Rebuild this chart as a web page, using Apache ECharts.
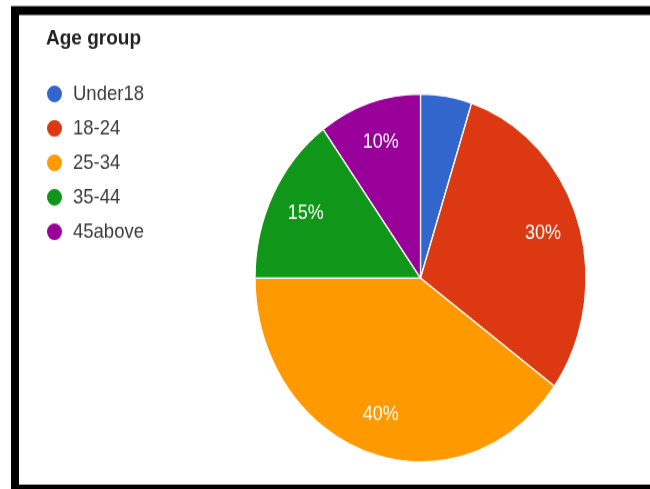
<!DOCTYPE html>
<html>
<head>
<meta charset="utf-8">
<title>Age group</title>
<script src="https://cdn.jsdelivr.net/npm/echarts@6/dist/echarts.min.js"></script>
<style>
  html, body { margin: 0; padding: 0; background: #ffffff; }
  #frame { width: 650px; height: 489px; position: relative; }
  /* the chart is drawn on a 650x440 surface and stretched to fill 489px tall */
  #chart {
    position: absolute;
    left: 0;
    top: 0;
    width: 650px;
    height: 440px;
    transform: scaleY(1.1114);
    transform-origin: 0 0;
  }
</style>
</head>
<body>
<div id="frame"><div id="chart"></div></div>
<script>
// Age group shares (percent of respondents)
const categories = ['Under18', '18-24', '25-34', '35-44', '45above'];
const shares = [5, 30, 40, 15, 10];
const sliceColors = ['#3366cc', '#dc3912', '#ff9900', '#109618', '#990099'];
const chartTitle = 'Age group';

// slices narrower than this get no text inside them
const labelThreshold = 6;

const FONT = '"Liberation Sans", Arial, sans-serif';
const center = [420.5, 250.2];
const radius = 165.5;
const labelRing = 0.76; // label distance as a fraction of the radius

const chart = echarts.init(document.getElementById('chart'), null, { renderer: 'canvas' });

const sliceData = categories.map((name, i) => ({
  name,
  value: shares[i],
  itemStyle: { color: sliceColors[i] }
}));

chart.setOption({
  animation: false,
  backgroundColor: '#ffffff',
  title: {
    text: chartTitle,
    left: 41,
    top: 20,
    textStyle: { fontFamily: FONT, fontSize: 19, fontWeight: 'bold', color: '#222222' }
  },
  legend: {
    data: categories,
    orient: 'vertical',
    left: 40,
    top: 70,
    icon: 'circle',
    itemWidth: 17,
    itemHeight: 17,
    itemGap: 12,
    textStyle: { fontFamily: FONT, fontSize: 18.5, color: '#3c3c3c', padding: [0, 0, 0, 5] }
  },
  graphic: [{
    type: 'rect',
    silent: true,
    z: 100,
    shape: { x: 15, y: 9.5, width: 700, height: 430.5 },
    style: { fill: 'none', stroke: '#000000', lineWidth: 8 }
  }],
  series: [
    {
      name: chartTitle,
      type: 'pie',
      center,
      radius,
      startAngle: 90,
      clockwise: true,
      label: { show: false },
      labelLine: { show: false },
      itemStyle: { borderColor: '#ffffff', borderWidth: 1.3 },
      emphasis: { disabled: true },
      data: sliceData
    },
    {
      // transparent ring used only to place the percentage texts
      name: 'labels',
      type: 'pie',
      center,
      radius: radius * labelRing * 2,
      startAngle: 90,
      clockwise: true,
      silent: true,
      z: 3,
      itemStyle: { color: 'rgba(0,0,0,0)', borderWidth: 0 },
      labelLine: { show: false },
      emphasis: { disabled: true },
      label: {
        show: true,
        position: 'inside',
        fontFamily: FONT,
        fontSize: 18,
        color: '#ffffff',
        formatter: p => (p.value < labelThreshold ? '' : p.value + '%')
      },
      data: categories.map((name, i) => ({ name, value: shares[i] }))
    }
  ]
});
</script>
</body>
</html>
